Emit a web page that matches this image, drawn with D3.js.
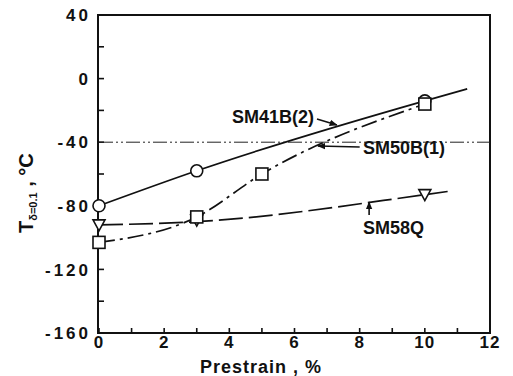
<!DOCTYPE html>
<html>
<head>
<meta charset="utf-8">
<script src="https://cdn.jsdelivr.net/npm/d3@7"></script>
<style>
  body { margin: 0; background: #fff; }
  svg text { font-family: "Liberation Sans", Arial, sans-serif; fill: #111; font-weight: bold; }
</style>
</head>
<body>
<div id="chart"></div>
<script>
// ---- data ----
var xTicks = [0, 2, 4, 6, 8, 10, 12];
var yTicks = [40, 0, -40, -80, -120, -160];

// SM41B(2): open circles, solid line
var sm41bX = [0, 3, 10];
var sm41bY = [-80, -58, -14];
var sm41bLineX = [0, 3, 10, 11.3];
var sm41bLineY = [-80, -58, -14, -6.5];

// SM50B(1): open squares, dash-dot line
var sm50bX = [0, 3, 5, 10];
var sm50bY = [-103, -87, -60, -16];

// SM58Q: open down-triangles, dashed line
var sm58qX = [0, 3, 10];
var sm58qY = [-92, -89, -73];
var sm58qLineX = [0, 3, 10, 10.7];
var sm58qLineY = [-92, -90, -73, -71];

// reference level (thin dash-dot-dot)
var refLevel = -40;

var W = 513, H = 376;
var svg = d3.select('#chart').append('svg').attr('width', W).attr('height', H);

var x = d3.scaleLinear().domain([0, 12]).range([99, 490]);
var y = d3.scaleLinear().domain([-160, 40]).range([333, 15]);

function zip(xs, ys) { return xs.map(function(v, i) { return [v, ys[i]]; }); }

// frame
svg.append('rect').attr('x', x(0) - 1).attr('y', y(40))
  .attr('width', x(12) - x(0) + 1).attr('height', y(-160) - y(40))
  .attr('fill', 'none').attr('stroke', '#111').attr('stroke-width', 2);

// y ticks (inward), every 20
d3.range(-160, 41, 20).forEach(function(v) {
  svg.append('line').attr('x1', x(0) - 1).attr('x2', x(0) + 5)
    .attr('y1', y(v)).attr('y2', y(v)).attr('stroke', '#111').attr('stroke-width', 1.6);
});
yTicks.forEach(function(v) {
  svg.append('text').attr('x', 91).attr('y', y(v)).attr('dy', '0.36em')
    .attr('text-anchor', 'end').attr('font-size', 17).attr('letter-spacing', 3)
    .text(v);
});

// x ticks (inward), every 1
d3.range(0, 13, 1).forEach(function(v) {
  svg.append('line').attr('x1', x(v)).attr('x2', x(v))
    .attr('y1', y(-160)).attr('y2', y(-160) - 5).attr('stroke', '#111').attr('stroke-width', 1.6);
});
xTicks.forEach(function(v) {
  svg.append('text').attr('x', x(v)).attr('y', 348)
    .attr('text-anchor', 'middle').attr('font-size', 17).attr('letter-spacing', 1)
    .text(v);
});

// axis titles
svg.append('text').attr('x', 200).attr('y', 373).attr('font-size', 18)
  .attr('letter-spacing', 1).text('Prestrain  ,  %');

var yt = svg.append('text').attr('transform', 'translate(33,233) rotate(-90)')
  .attr('font-size', 20);
yt.append('tspan').text('T');
yt.append('tspan').attr('font-size', 11).attr('dy', 4).text('δ=0.1');
yt.append('tspan').attr('dy', -4).text(' ,  °C');

// reference line
svg.append('line').attr('x1', x(0)).attr('x2', x(12))
  .attr('y1', y(refLevel)).attr('y2', y(refLevel))
  .attr('stroke', '#222').attr('stroke-width', 1).attr('stroke-dasharray', '14,3,2,3,2,3');

var line = d3.line().x(function(d) { return x(d[0]); }).y(function(d) { return y(d[1]); })
  .curve(d3.curveMonotoneX);

svg.append('path').datum(zip(sm41bLineX, sm41bLineY)).attr('d', line)
  .attr('fill', 'none').attr('stroke', '#111').attr('stroke-width', 1.7);
svg.append('path').datum(zip(sm50bX, sm50bY)).attr('d', line)
  .attr('fill', 'none').attr('stroke', '#111').attr('stroke-width', 1.7)
  .attr('stroke-dasharray', '16,5,3,5');
svg.append('path').datum(zip(sm58qLineX, sm58qLineY)).attr('d', line)
  .attr('fill', 'none').attr('stroke', '#111').attr('stroke-width', 1.7)
  .attr('stroke-dasharray', '24,6');

// markers
svg.selectAll('.circ').data(zip(sm41bX, sm41bY)).enter().append('circle')
  .attr('cx', function(d) { return x(d[0]); }).attr('cy', function(d) { return y(d[1]); })
  .attr('r', 6).attr('fill', '#fff').attr('stroke', '#111').attr('stroke-width', 1.6);
svg.selectAll('.tri').data(zip(sm58qX, sm58qY)).enter().append('path')
  .attr('transform', function(d) { return 'translate(' + x(d[0]) + ',' + y(d[1]) + ')'; })
  .attr('d', 'M-6,-5L6,-5L0,6Z')
  .attr('fill', '#fff').attr('stroke', '#111').attr('stroke-width', 1.6);
svg.selectAll('.sq').data(zip(sm50bX, sm50bY)).enter().append('rect')
  .attr('x', function(d) { return x(d[0]) - 6; }).attr('y', function(d) { return y(d[1]) - 6; })
  .attr('width', 12).attr('height', 12)
  .attr('fill', '#fff').attr('stroke', '#111').attr('stroke-width', 1.6);

// annotations with arrows
var defs = svg.append('defs');
defs.append('marker').attr('id', 'ah').attr('viewBox', '0 0 10 10')
  .attr('refX', 9).attr('refY', 5).attr('markerWidth', 5).attr('markerHeight', 5)
  .attr('orient', 'auto').append('path').attr('d', 'M0,1L10,5L0,9Z').attr('fill', '#111');

var notes = [
  { text: 'SM41B(2)', tx: 4.08, ty: -27.9, a: [6.69, -25.4, 7.3, -29.2] },
  { text: 'SM50B(1)', tx: 8.1, ty: -47.4, a: [8.0, -43, 6.72, -42.4] },
  { text: 'SM58Q', tx: 8.1, ty: -97.7, a: [8.29, -85.8, 8.29, -77.6] }
];
notes.forEach(function(n) {
  svg.append('text').attr('x', x(n.tx)).attr('y', y(n.ty)).attr('font-size', 18).text(n.text);
  svg.append('line').attr('x1', x(n.a[0])).attr('y1', y(n.a[1]))
    .attr('x2', x(n.a[2])).attr('y2', y(n.a[3]))
    .attr('stroke', '#111').attr('stroke-width', 1.6).attr('marker-end', 'url(#ah)');
});
</script>
</body>
</html>
